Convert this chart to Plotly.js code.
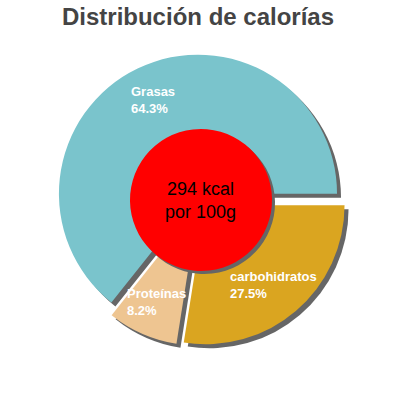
<!DOCTYPE html>
<html>
<head>
<meta charset="utf-8">
<script src="https://cdn.plot.ly/plotly-3.0.1.min.js"></script>
<style>
  body { margin: 0; background: #fff; }
  #chart { width: 400px; height: 400px; }
</style>
</head>
<body>
<div id="chart"></div>
<script>
const labels = ["Grasas", "Proteínas", "carbohidratos"];
const shares = [64.3, 8.2, 27.5];
const colors = ["#7AC4CC", "#EEC591", "#DAA520"];
const energy = "294 kcal";
const perUnit = "por 100g";

const W = 400, H = 400;
const cx = 201, cy = 200;      // pie centre, px from top-left
const half = 146;              // half size of the pie box
const pull = 0.05;
const hole = 71;               // red disc radius
const shadow = 4;

const total = shares.reduce((a, b) => a + b, 0);
// first slice runs counterclockwise from 3 o'clock
const rotation = 90 - shares[0] / total * 360;

const dom = (x, y, h) => ({
  x: [(x - h) / W, (x + h) / W],
  y: [(H - y - h) / H, (H - y + h) / H],
});

const pieBase = {
  type: "pie",
  sort: false,
  direction: "counterclockwise",
  rotation: rotation,
  textinfo: "none",
  hoverinfo: "skip",
  showlegend: false,
  marker: { line: { width: 0 } },
};

const shadowPie = Object.assign({}, pieBase, {
  values: shares,
  pull: shares.map(() => pull),
  marker: { colors: shares.map(() => "#666666"), line: { width: 0 } },
  domain: dom(cx + shadow, cy + shadow, half),
});

const mainPie = Object.assign({}, pieBase, {
  values: shares,
  labels: labels,
  pull: shares.map(() => pull),
  marker: { colors: colors, line: { width: 0 } },
  domain: dom(cx, cy, half),
});

const discShadow = Object.assign({}, pieBase, {
  values: [1],
  marker: { colors: ["#666666"], line: { width: 0 } },
  domain: dom(cx + 3, cy + 3, hole),
});

const disc = Object.assign({}, pieBase, {
  values: [1],
  marker: { colors: ["#FF0000"], line: { width: 0 } },
  domain: dom(cx, cy, hole),
});

// slice labels placed along each slice's middle angle
const r = half / (1 + pull);
let acc = 0;
const annotations = shares.map((v, i) => {
  const mid = (acc + v / 2) / total * 2 * Math.PI;
  acc += v;
  const d = r * (pull + 0.75);
  const px = cx + d * Math.cos(mid);
  const py = cy - d * Math.sin(mid);
  return {
    xref: "paper", yref: "paper",
    x: px / W, y: (H - py) / H,
    xanchor: "center", yanchor: "middle",
    align: "left",
    showarrow: false,
    text: labels[i] + "<br>" + v.toFixed(1) + "%",
    font: { family: "Liberation Sans, Arial, sans-serif", size: 13, color: "#ffffff", weight: "bold" },
  };
});

annotations.push({
  xref: "paper", yref: "paper",
  x: cx / W, y: (H - cy) / H,
  xanchor: "center", yanchor: "middle",
  showarrow: false,
  text: energy + "<br>" + perUnit,
  font: { family: "Liberation Sans, Arial, sans-serif", size: 18, color: "#000000" },
});

const layout = {
  width: W, height: H,
  margin: { l: 0, r: 0, t: 0, b: 0 },
  paper_bgcolor: "#ffffff",
  title: {
    text: "Distribución de calorías",
    font: { family: "Liberation Sans, Arial, sans-serif", size: 24, color: "#444444", weight: "bold" },
    x: 0.495, xanchor: "center",
    yref: "container", y: 1, yanchor: "top",
    pad: { t: 8 },
  },
  annotations: annotations,
};

Plotly.newPlot("chart", [shadowPie, mainPie, discShadow, disc], layout, { displayModeBar: false, staticPlot: true });
</script>
</body>
</html>
